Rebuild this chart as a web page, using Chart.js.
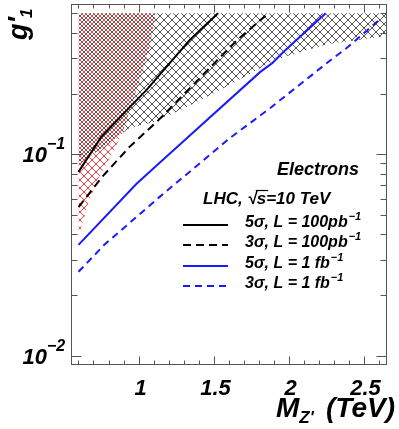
<!DOCTYPE html>
<html>
<head>
<meta charset="utf-8">
<script src="https://cdn.jsdelivr.net/npm/chart.js@4.4.0/dist/chart.umd.min.js"></script>
<style>
html, body { margin: 0; padding: 0; background: #fff; }
canvas { display: block; }
</style>
</head>
<body>
<canvas id="chart" width="399" height="429"></canvas>
<script>
// Z' mass (TeV) vs coupling g'1
var mass_5s_100pb = [0.6, 0.752, 0.872, 1.054, 1.342, 1.53];
var g_5s_100pb = [0.0817, 0.1218, 0.1514, 0.2085, 0.369, 0.5];
var mass_3s_100pb = [0.6, 0.758, 0.94, 1.121, 1.658, 1.866];
var g_3s_100pb = [0.0546, 0.0772, 0.1087, 0.1446, 0.3686, 0.5];
var mass_5s_1fb = [0.6, 0.987, 1.141, 1.309, 1.812, 1.893, 1.966, 2.248];
var g_5s_1fb = [0.0355, 0.0713, 0.0906, 0.1177, 0.256, 0.2836, 0.321, 0.5];
var mass_3s_1fb = [0.6, 0.772, 1.141, 1.611, 1.879, 2.282, 2.396, 2.604];
var g_3s_1fb = [0.0261, 0.0355, 0.0614, 0.1205, 0.1696, 0.2935, 0.34, 0.463];

// hatched regions: lower edge, filled up to band_top
var mass_black_band = [0.6, 0.738, 0.94, 1.107, 1.322, 1.544, 1.765, 1.913, 2.013, 2.262, 2.463, 2.65];
var g_black_band = [0.0885, 0.105, 0.135, 0.1446, 0.1716, 0.2084, 0.256, 0.2935, 0.3106, 0.352, 0.369, 0.386];
var mass_red_band = [0.6, 0.671, 0.738, 0.826, 0.893, 0.94, 1.007, 1.074, 1.114];
var g_red_band = [0.0389, 0.0593, 0.0772, 0.1015, 0.1275, 0.162, 0.2335, 0.34, 0.5];
var band_top = 0.5;

var x_ticks = [1, 1.5, 2, 2.5];
var x_tick_labels = ["1", "1.5", "2", "2.5"];
var y_ticks = [0.1, 0.01];
var y_tick_exps = ["\u22121", "\u22122"];

var legend_text = ["5\u03c3, L = 100pb", "3\u03c3, L = 100pb", "5\u03c3, L = 1 fb", "3\u03c3, L = 1 fb"];

function pts(xs, ys) {
    return xs.map(function(x, i) { return { x: x, y: ys[i] }; });
}

// cross hatch tile, thin 1px diagonals, shifted by off
function hatch(color, size, off) {
    var c = document.createElement("canvas");
    c.width = size;
    c.height = size;
    var g = c.getContext("2d");
    g.fillStyle = color;
    for (var i = 0; i < size; i++) {
        g.fillRect((i + off) % size, i, 1, 1);
        g.fillRect((size - 1 - i + off) % size, i, 1, 1);
    }
    return g.createPattern(c, "repeat");
}

var F = '"Liberation Sans", Arial, sans-serif';

var rootStyle = {
    id: "rootStyle",
    afterDraw: function(chart) {
        var ctx = chart.ctx, a = chart.chartArea;
        var xs = chart.scales.x, ys = chart.scales.y;
        ctx.save();
        ctx.strokeStyle = "#555";
        ctx.lineWidth = 1;
        var L = Math.round(a.left) + 0.5, R = Math.round(a.right) + 0.5;
        var T = Math.round(a.top) + 0.5, B = Math.round(a.bottom) + 0.5;
        ctx.strokeRect(L, T, R - L, B - T);
        ctx.beginPath();
        // x ticks every 0.1, bottom and top
        for (var i = 6; i <= 26; i++) {
            var px = Math.round(xs.getPixelForValue(i / 10)) + 0.5;
            var len = (i % 5 == 0) ? 8 : 4;
            ctx.moveTo(px, B); ctx.lineTo(px, B - len);
            ctx.moveTo(px, T); ctx.lineTo(px, T + len);
        }
        // y ticks, log decades
        [0.01, 0.1].forEach(function(d) {
            for (var k = 1; k <= 9; k++) {
                var v = k * d;
                if (v > ys.max || v < ys.min) continue;
                var py = Math.round(ys.getPixelForValue(v)) + 0.5;
                var len = (k == 1) ? 10 : 6;
                ctx.moveTo(L, py); ctx.lineTo(L + len, py);
                ctx.moveTo(R, py); ctx.lineTo(R - len, py);
            }
        });
        ctx.stroke();

        ctx.fillStyle = "#000";
        ctx.textBaseline = "alphabetic";
        // x tick labels
        ctx.font = "italic bold 22px " + F;
        ctx.textAlign = "center";
        x_ticks.forEach(function(v, i) {
            ctx.fillText(x_tick_labels[i], xs.getPixelForValue(v) + 2, 395);
        });
        // y tick labels 10^-n
        y_ticks.forEach(function(v, i) {
            var py = ys.getPixelForValue(v);
            ctx.font = "italic bold 22px " + F;
            ctx.textAlign = "right";
            ctx.fillText("10", 47, py + 8);
            ctx.font = "italic bold 16px " + F;
            ctx.textAlign = "left";
            ctx.fillText(y_tick_exps[i], 47, py - 5);
        });

        // x title
        ctx.textAlign = "left";
        ctx.font = "italic bold 28px " + F;
        ctx.fillText("M", 276, 417);
        var mw = ctx.measureText("M").width;
        ctx.font = "italic bold 17px " + F;
        ctx.fillText("Z'", 276 + mw, 423);
        ctx.font = "italic bold 28px " + F;
        ctx.textAlign = "right";
        ctx.fillText("(TeV)", 395, 417);

        // y title, rotated
        ctx.save();
        ctx.translate(27, 40);
        ctx.rotate(-Math.PI / 2);
        ctx.textAlign = "left";
        ctx.font = "italic bold 27px " + F;
        ctx.fillText("g'", 0, 0);
        var gw = ctx.measureText("g'").width;
        ctx.font = "italic bold 17px " + F;
        ctx.fillText("1", gw - 1, 5);
        ctx.restore();

        // annotation
        ctx.textAlign = "left";
        ctx.font = "italic bold 18px " + F;
        ctx.fillText("Electrons", 277, 175);
        ctx.font = "italic bold 17px " + F;
        var x0 = 203;
        ctx.fillText("LHC, ", x0, 204);
        x0 += ctx.measureText("LHC, ").width;
        ctx.fillText("\u221a", x0, 204);
        x0 += ctx.measureText("\u221a").width;
        ctx.fillText("s=10 TeV", x0, 204);
        var sw = ctx.measureText("s").width;
        ctx.beginPath();
        ctx.strokeStyle = "#000";
        ctx.lineWidth = 1.2;
        ctx.moveTo(x0 - 1, 190.5); ctx.lineTo(x0 + sw + 2, 190.5);
        ctx.stroke();

        // legend
        var rowsY = [225, 245, 266, 286];
        var lineSets = chart.data.datasets.slice(2);
        lineSets.forEach(function(ds, i) {
            var y = rowsY[i];
            ctx.beginPath();
            ctx.strokeStyle = ds.borderColor;
            ctx.lineWidth = ds.borderWidth;
            ctx.setLineDash(ds.borderDash || []);
            ctx.moveTo(183, y); ctx.lineTo(228, y);
            ctx.stroke();
            ctx.setLineDash([]);
            ctx.font = "italic bold 16px " + F;
            ctx.fillStyle = "#000";
            ctx.fillText(legend_text[i], 245, y + 2);
            var tw = ctx.measureText(legend_text[i]).width;
            ctx.font = "italic bold 11px " + F;
            ctx.fillText("\u22121", 245 + tw + 1, y - 5);
        });
        ctx.restore();
    }
};

var ctx = document.getElementById("chart").getContext("2d");
var myChart = new Chart(ctx, {
    type: "line",
    data: {
        datasets: [{
            data: pts(mass_black_band, g_black_band),
            fill: { value: band_top },
            backgroundColor: hatch("#555", 8, 0),
            borderColor: "transparent",
            borderWidth: 0,
            pointRadius: 0,
            order: 3,
        }, {
            data: pts(mass_red_band, g_red_band),
            fill: { value: band_top },
            backgroundColor: hatch("#ff4040", 8, 4),
            borderColor: "transparent",
            borderWidth: 0,
            pointRadius: 0,
            order: 2,
        }, {
            label: legend_text[0],
            data: pts(mass_5s_100pb, g_5s_100pb),
            borderColor: "#000",
            borderWidth: 2,
            pointRadius: 0,
            fill: false,
            order: 0,
        }, {
            label: legend_text[1],
            data: pts(mass_3s_100pb, g_3s_100pb),
            borderColor: "#000",
            borderWidth: 2,
            borderDash: [8, 5],
            pointRadius: 0,
            fill: false,
            order: 0,
        }, {
            label: legend_text[2],
            data: pts(mass_5s_1fb, g_5s_1fb),
            borderColor: "#1a1aff",
            borderWidth: 2,
            pointRadius: 0,
            fill: false,
            order: 0,
        }, {
            label: legend_text[3],
            data: pts(mass_3s_1fb, g_3s_1fb),
            borderColor: "#1a1aff",
            borderWidth: 2,
            borderDash: [7, 5],
            pointRadius: 0,
            fill: false,
            order: 0,
        }],
    },
    options: {
        responsive: false,
        animation: false,
        layout: { padding: { left: 71, right: 13, top: 4, bottom: 65 } },
        plugins: {
            legend: { display: false },
            tooltip: { enabled: false },
        },
        scales: {
            x: { type: "linear", min: 0.55, max: 2.65, display: false },
            y: { type: "logarithmic", min: 0.0091, max: 0.556, display: false },
        },
    },
    plugins: [rootStyle],
});
</script>
</body>
</html>
